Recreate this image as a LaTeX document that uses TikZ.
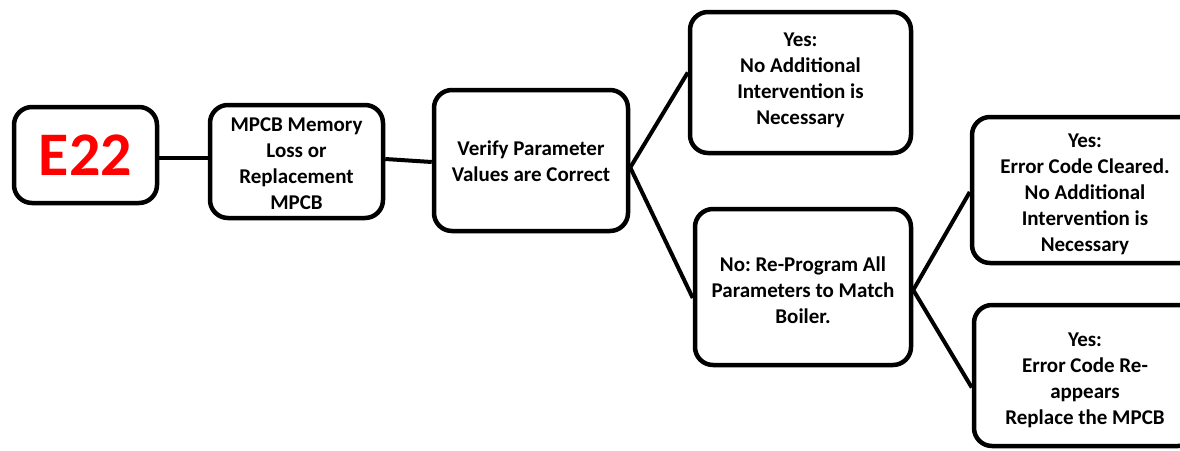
\documentclass[tikz,border=0pt]{standalone}
\usepackage{fontspec}
\setmainfont{Carlito}
\usetikzlibrary{calc}
\definecolor{errred}{RGB}{255,0,0}
\frenchspacing
\begin{document}
\begin{tikzpicture}[x=1pt,y=-1pt,
  box/.style={draw, line width=4.5pt, rounded corners=18pt, fill=white, inner sep=0pt},
  txt/.style={align=center, inner sep=0pt, font=\bfseries\fontsize{21}{26}\selectfont},
  conn/.style={line width=4pt}]
\useasboundingbox (0,0) rectangle (1180,450);
\clip (0,0) rectangle (1180,450);
% boxes
\node[box, minimum width=143pt, minimum height=96pt] (e22) at (85.5,155) {};
\node[box, minimum width=173pt, minimum height=113pt] (mpcb) at (296.5,161.5) {};
\node[box, minimum width=194pt, minimum height=141pt] (verify) at (531,160.5) {};
\node[box, minimum width=221pt, minimum height=141pt] (yes1) at (800.5,82.5) {};
\node[box, minimum width=216pt, minimum height=156pt] (no) at (803,287) {};
\node[box, minimum width=226pt, minimum height=146pt] (yes2) at (1085,190) {};
\node[box, minimum width=222pt, minimum height=141pt] (yes3) at (1085,375.5) {};
% texts
\node[txt, text=errred, font=\bfseries\fontsize{62}{70}\selectfont] (e22t) at (e22) {E22};
\node[txt] (mpcbt) at ($(mpcb)+(0,2)$) {MPCB Memory\\Loss or\\Replacement\\MPCB};
\node[txt] (verifyt) at ($(verify)+(0,1)$) {Verify Parameter\\Values are Correct};
\node[txt] (yes1t) at ($(yes1)+(0,-2)$)
  {Yes:\\No Additional\\Intervention is\\Necessary};
\node[txt] (not) at ($(no)+(0,3.5)$)
  {No: Re-Program All\\Parameters to Match\\Boiler.};
\node[txt] (yes2t) at ($(yes2)+(0,4)$)
  {Yes:\\Error Code Cleared.\\No Additional\\Intervention is\\Necessary};
\node[txt] (yes3t) at ($(yes3)+(0,4.5)$)
  {Yes:\\Error Code Re-\\appears\\Replace the MPCB};
% connectors
\draw[conn] ($(e22.east)+(0,3)$) -- ($(mpcb.west)+(0,-3.5)$);
\draw[conn] ($(mpcb.east)+(0,-2.5)$) -- ($(verify.west)+(0,1.5)$);
\draw[conn] ($(verify.east)+(0,7)$) -- ($(yes1.west)+(0,-10)$);
\draw[conn] ($(verify.east)+(0,7)$) -- ($(no.west)+(0,11)$);
\draw[conn] ($(no.east)+(0,3)$) -- ($(yes2.west)+(0,2)$);
\draw[conn] ($(no.east)+(0,3)$) -- ($(yes3.west)+(0,12)$);
\end{tikzpicture}
\end{document}
